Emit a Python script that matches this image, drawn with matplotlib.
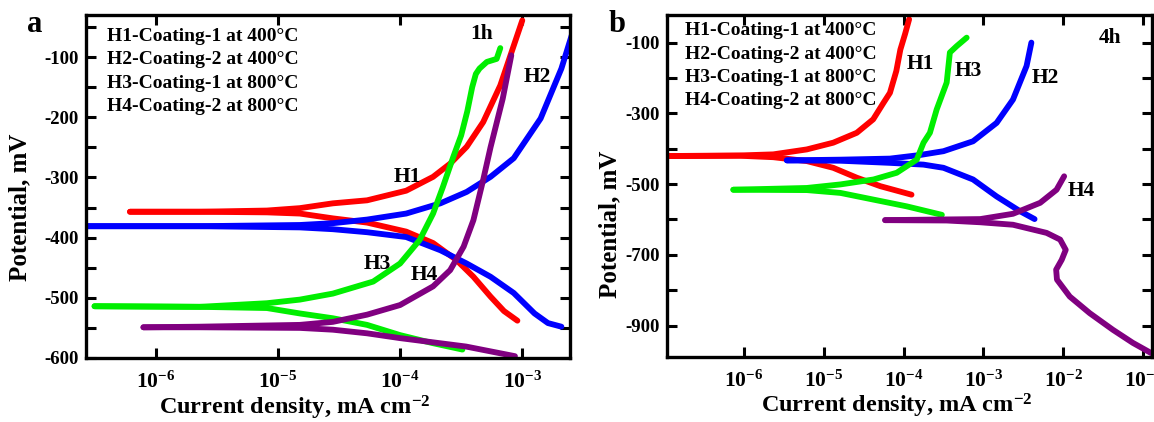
import numpy as np
import matplotlib
matplotlib.use("Agg")
import matplotlib.pyplot as plt
from matplotlib.ticker import FixedLocator, FuncFormatter

plt.rcParams['font.family'] = ['Liberation Serif', 'DejaVu Serif']
plt.rcParams['font.weight'] = 'bold'
plt.rcParams['mathtext.fontset'] = 'custom'
plt.rcParams['mathtext.rm'] = 'Liberation Serif:bold'
plt.rcParams['mathtext.bf'] = 'Liberation Serif:bold'
plt.rcParams['mathtext.it'] = 'Liberation Serif:bold:italic'

# ---------------- Data (log10 current density, potential mV) ----------------
legend_lines = ["H1-Coating-1 at 400°C", "H2-Coating-2 at 400°C",
                "H3-Coating-1 at 800°C", "H4-Coating-2 at 800°C"]
colors = {"H1": "#ff0000", "H2": "#0000ff", "H3": "#00ee00", "H4": "#800080"}

# Panel a (1 h)
a_H1_an_logi = [-6.21, -5.64, -5.09, -4.82, -4.55, -4.27, -3.95, -3.73, -3.59, -3.455, -3.32, -3.18, -3.07, -3.0]
a_H1_an_E = [-357, -357, -355, -351, -343, -338, -322, -299, -277, -249, -208, -147, -81, -39]
a_H1_ca_logi = [-6.21, -5.64, -5.09, -4.82, -4.55, -4.27, -3.95, -3.73, -3.54, -3.40, -3.26, -3.15, -3.04]
a_H1_ca_E = [-357, -357, -358, -360, -368, -375, -390, -409, -437, -465, -498, -522, -538]

a_H2_an_logi = [-6.7, -5.64, -4.82, -4.55, -4.27, -3.95, -3.67, -3.455, -3.26, -3.07, -2.85, -2.68, -2.57]
a_H2_an_E = [-381, -381, -379, -376, -370, -360, -343, -324, -299, -268, -202, -119, -47]
a_H2_ca_logi = [-6.7, -5.64, -4.82, -4.55, -4.27, -3.95, -3.67, -3.455, -3.26, -3.07, -2.90, -2.79, -2.68]
a_H2_ca_E = [-381, -381, -383, -386, -391, -399, -421, -443, -465, -492, -526, -542, -548]

a_H3_an_logi = [-6.5, -5.64, -5.09, -4.82, -4.55, -4.22, -4.0, -3.84, -3.73, -3.65, -3.565, -3.50,
                -3.45, -3.41, -3.38, -3.35, -3.29, -3.21, -3.18]
a_H3_an_E = [-514, -515, -509, -503, -493, -473, -443, -404, -360, -316, -266, -230,
             -190, -150, -128, -119, -108, -103, -85]
a_H3_ca_logi = [-6.5, -5.64, -5.09, -4.82, -4.55, -4.27, -4.0, -3.74, -3.49]
a_H3_ca_E = [-514, -515, -517, -526, -534, -545, -562, -575, -586]

a_H4_an_logi = [-6.1, -5.64, -4.82, -4.55, -4.27, -4.0, -3.73, -3.59, -3.48, -3.40, -3.32, -3.26, -3.16, -3.09]
a_H4_an_E = [-549, -548, -545, -540, -528, -512, -481, -454, -415, -371, -304, -250, -169, -97]
a_H4_ca_logi = [-6.1, -5.64, -4.82, -4.55, -4.27, -4.0, -3.46, -3.06]
a_H4_ca_E = [-549, -549, -550, -553, -559, -567, -581, -597]

# Panel b (4 h)
b_H1_an_logi = [-7.1, -6.04, -5.63, -5.21, -4.88, -4.585, -4.38, -4.25, -4.17, -4.09, -4.04, -3.98, -3.93]
b_H1_an_E = [-421, -419, -416, -402, -383, -355, -317, -270, -242, -180, -120, -75, -34]
b_H1_ca_logi = [-7.1, -6.04, -5.63, -5.21, -4.88, -4.585, -4.29, -3.90]
b_H1_ca_E = [-421, -420, -424, -435, -454, -482, -506, -530]

b_H2_an_logi = [-5.46, -4.79, -4.17, -3.80, -3.50, -3.13, -2.835, -2.63, -2.46, -2.40]
b_H2_an_E = [-433, -431, -428, -418, -407, -379, -327, -261, -166, -100]
b_H2_ca_logi = [-5.46, -4.79, -4.17, -3.75, -3.5, -3.13, -2.835, -2.54, -2.36]
b_H2_ca_E = [-433, -434, -440, -445, -454, -487, -535, -577, -599]

b_H3_an_logi = [-6.13, -5.21, -4.79, -4.375, -4.085, -3.835, -3.75, -3.67, -3.585, -3.46, -3.42, -3.335, -3.21]
b_H3_an_E = [-516, -511, -501, -487, -468, -431, -383, -355, -289, -213, -128, -110, -86]
b_H3_ca_logi = [-6.13, -5.21, -4.79, -4.375, -3.96, -3.52]
b_H3_ca_E = [-516, -517, -525, -544, -563, -587]

b_H4_an_logi = [-4.23, -3.46, -3.04, -2.63, -2.29, -2.085, -1.99]
b_H4_an_E = [-602, -600, -599, -584, -553, -516, -478]
b_H4_ca_logi = [-4.23, -3.46, -3.04, -2.63, -2.21, -2.04, -1.97, -2.02, -2.09, -2.08, -1.92, -1.67, -1.38, -1.13, -0.90]
b_H4_ca_E = [-602, -603, -608, -615, -638, -657, -686, -714, -742, -770, -818, -865, -912, -949, -978]

panel_a = {
    "H1": (a_H1_an_logi, a_H1_an_E, a_H1_ca_logi, a_H1_ca_E),
    "H2": (a_H2_an_logi, a_H2_an_E, a_H2_ca_logi, a_H2_ca_E),
    "H3": (a_H3_an_logi, a_H3_an_E, a_H3_ca_logi, a_H3_ca_E),
    "H4": (a_H4_an_logi, a_H4_an_E, a_H4_ca_logi, a_H4_ca_E),
}
panel_b = {
    "H1": (b_H1_an_logi, b_H1_an_E, b_H1_ca_logi, b_H1_ca_E),
    "H2": (b_H2_an_logi, b_H2_an_E, b_H2_ca_logi, b_H2_ca_E),
    "H3": (b_H3_an_logi, b_H3_an_E, b_H3_ca_logi, b_H3_ca_E),
    "H4": (b_H4_an_logi, b_H4_an_E, b_H4_ca_logi, b_H4_ca_E),
}

# curve labels: (name, log10 i, E)
a_labels = [("1h", -3.335, -61), ("H2", -2.88, -133), ("H1", -3.94, -299),
            ("H3", -4.19, -443), ("H4", -3.80, -462)]
b_labels = [("4h", -1.42, -86), ("H1", -3.79, -161), ("H3", -3.19, -180),
            ("H2", -2.23, -199), ("H4", -1.77, -520)]

a_decades = [-6, -5, -4, -3]
b_decades = [-6, -5, -4, -3, -2, -1]

# ---------------- Figure ----------------
fig = plt.figure(figsize=(11.54, 4.22), dpi=100)
ax_a = fig.add_axes([0.0745, 0.1517, 0.4194, 0.8128])
ax_b = fig.add_axes([0.578, 0.154, 0.4203, 0.8104])

LW = 4.2


def draw(ax, data, labels, decades, xlim_log, ylim, ymajor, ylabels, legx, legy):
    for name, (al, ae, cl, ce) in data.items():
        ax.plot(10.0 ** np.array(al), ae, color=colors[name], lw=LW,
                solid_capstyle='round', solid_joinstyle='round')
        ax.plot(10.0 ** np.array(cl), ce, color=colors[name], lw=LW,
                solid_capstyle='round', solid_joinstyle='round')
    ax.set_xscale('log')
    ax.set_xlim(10 ** xlim_log[0], 10 ** xlim_log[1])
    ax.set_ylim(*ylim)
    ax.xaxis.set_major_locator(FixedLocator([10.0 ** d for d in decades]))
    ax.xaxis.set_minor_locator(FixedLocator([]))
    ax.xaxis.set_major_formatter(FuncFormatter(
        lambda v, p: r'$\mathbf{10^{%d}}$' % int(round(np.log10(v)))))
    ax.yaxis.set_major_locator(FixedLocator(ymajor))
    ax.yaxis.set_major_formatter(FuncFormatter(
        lambda v, p: ("%d" % int(round(v))) if int(round(v)) in ylabels else ""))
    ax.tick_params(axis='both', which='both', direction='in', length=7, width=2.2,
                   top=True, right=True, pad=5)
    ax.tick_params(axis='y', labelsize=13.5)
    ax.tick_params(axis='x', labelsize=15.5, pad=10)
    for sp in ax.spines.values():
        sp.set_linewidth(2.4)
    for lab in ax.get_xticklabels() + ax.get_yticklabels():
        lab.set_fontweight('bold')
    for name, lx, ly in labels:
        ax.text(10 ** lx, ly, name, fontsize=15.5, fontweight='bold',
                ha='center', va='center')
    for k, line in enumerate(legend_lines):
        ax.text(legx, legy[k], line, transform=ax.transAxes, fontsize=14,
                fontweight='bold', ha='left', va='center')


draw(ax_a, panel_a, a_labels, a_decades, (-6.57, -2.61), (-600, -30),
     list(range(-600, -30, 50)), list(range(-600, 0, 100)),
     0.044, [0.937, 0.869, 0.801, 0.733])
draw(ax_b, panel_b, b_labels, b_decades, (-6.96, -0.89), (-989, -22),
     list(range(-900, 0, 100)), [-100, -300, -500, -700, -900],
     0.037, [0.954, 0.885, 0.818, 0.751])

# axis labels
fig.text(20 / 1154, 1 - 207 / 422, "Potential, mV", rotation=90, fontsize=18,
         fontweight='bold', ha='center', va='center')
fig.text(610 / 1154, 1 - 224 / 422, "Potential, mV", rotation=90, fontsize=18,
         fontweight='bold', ha='center', va='center')
fig.text(295 / 1154, 1 - 408 / 422, r"Current density, mA cm$^{\mathbf{-2}}$",
         fontsize=17.5, fontweight='bold', ha='center', va='center')
fig.text(897 / 1154, 1 - 406 / 422, r"Current density, mA cm$^{\mathbf{-2}}$",
         fontsize=17.5, fontweight='bold', ha='center', va='center')

# panel letters
fig.text(35 / 1154, 1 - 25 / 422, "a", fontsize=22, fontweight='bold',
         ha='center', va='center')
fig.text(617 / 1154, 1 - 25 / 422, "b", fontsize=22, fontweight='bold',
         ha='center', va='center')

fig.savefig("out.png", dpi=100)
